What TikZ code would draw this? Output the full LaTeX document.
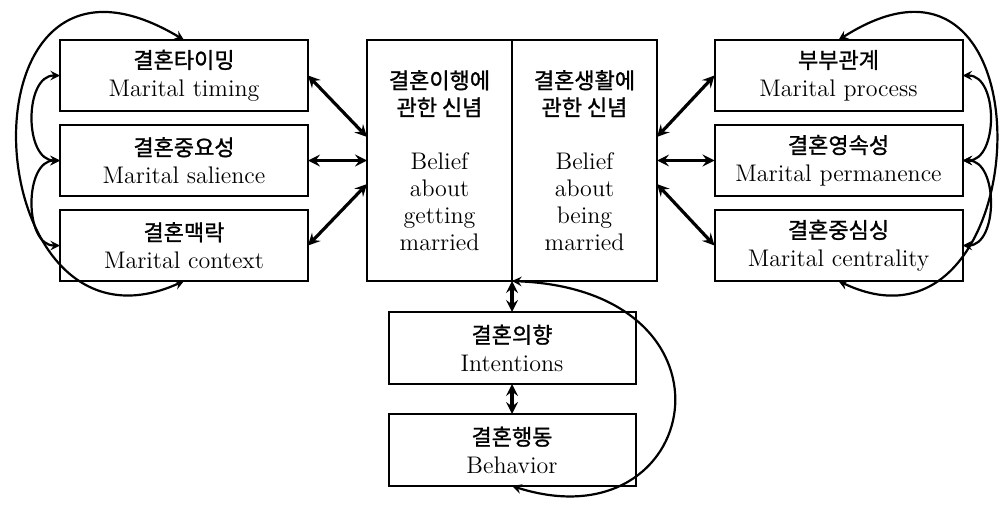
\documentclass[tikz,border=0pt]{standalone}
\usepackage{fontspec}
\newfontfamily\kr{Noto Sans CJK KR}[FakeBold=1.2]
\usetikzlibrary{positioning}
\tikzset{
  box/.style = {draw, line width=1pt, outer sep=0pt, align=center,
                font=\fontsize{12}{14}\selectfont},
}
\newcommand\kor[1]{{\kr\fontsize{11}{14}\selectfont #1}}

\begin{document}
\begin{tikzpicture}[x=0.5pt, y=-0.5pt,
    sbox/.style = {box, minimum width=124pt, minimum height=35.5pt},
    hbox/.style = {box, minimum width=72.5pt, minimum height=120.5pt,
                   font=\fontsize{12}{13.5}\selectfont},
    bbox/.style = {box, minimum width=123.5pt, minimum height=36pt},  ]

    \useasboundingbox (0,0) rectangle (1006,514);

    % left stack
    \begin{scope}[node distance=7pt]
      \node[sbox                 ] (tim)  at (184,75.5) {\kor{결혼타이밍}\\ Marital timing};
      \node[sbox, below = of tim ] (sal)  {\kor{결혼중요성}\\ Marital salience};
      \node[sbox, below = of sal ] (ctx)  {\kor{결혼맥락}\\ Marital context};
    \end{scope}

    % right stack
    \begin{scope}[node distance=7pt]
      \node[sbox                 ] (proc) at (838.5,75.5) {\kor{부부관계}\\ Marital process};
      \node[sbox, below = of proc] (perm) {\kor{결혼영속성}\\ Marital permanence};
      \node[sbox, below = of perm] (cent) {\kor{결혼중심싱}\\ Marital centrality};
    \end{scope}

    % beliefs
    \node[hbox] (getm) at (439.5,160.5) {\kor{결혼이행에}\\ \kor{관한 신념}\\[13.5pt]
          Belief\\ about\\ getting\\ married};
    \node[hbox, right = 0pt of getm] (beim) {\kor{결혼생활에}\\ \kor{관한 신념}\\[13.5pt]
          Belief\\ about\\ being\\ married};

    % intentions and behavior
    \node[bbox, below = 15.5pt of getm.south east] (int) {\kor{결혼의향}\\ Intentions};
    \node[bbox, below = 15pt of int              ] (beh) {\kor{결혼행동}\\ Behavior};

    \begin{scope}[line width=1.6pt, >=stealth]
      \draw[<->] (tim.east)  -- (getm.162);
      \draw[<->] (sal.east)  -- (getm.west);
      \draw[<->] (ctx.east)  -- (getm.198);
      \draw[<->] (proc.west) -- (beim.18);
      \draw[<->] (perm.west) -- (beim.east);
      \draw[<->] (cent.west) -- (beim.-18);
      \draw[<->] (getm.south east) -- (int.north);
      \draw[<->] (int) -- (beh);
    \end{scope}

    \begin{scope}[line width=1.1pt, >=stealth]
      \draw[<->] (tim.west)  .. controls +(-36,0) and +(-36,0) .. (sal.west);
      \draw[<->] (sal.west)  .. controls +(-36,0) and +(-36,0) .. (ctx.west);
      \draw[<->] (tim.north) .. controls +(-234,-140) and +(-210,95) .. (ctx.south);
      \draw[<->] (proc.east) .. controls +(36,0) and +(36,0) .. (perm.east);
      \draw[<->] (perm.east) .. controls +(36,0) and +(36,0) .. (cent.east);
      \draw[<->] (proc.north) .. controls +(220,-140) and +(200,95) .. (cent.south);
      \draw[<->] (beim.south west) .. controls +(240,10) and +(190,60) .. (beh.south);
    \end{scope}

\end{tikzpicture}
\end{document}
